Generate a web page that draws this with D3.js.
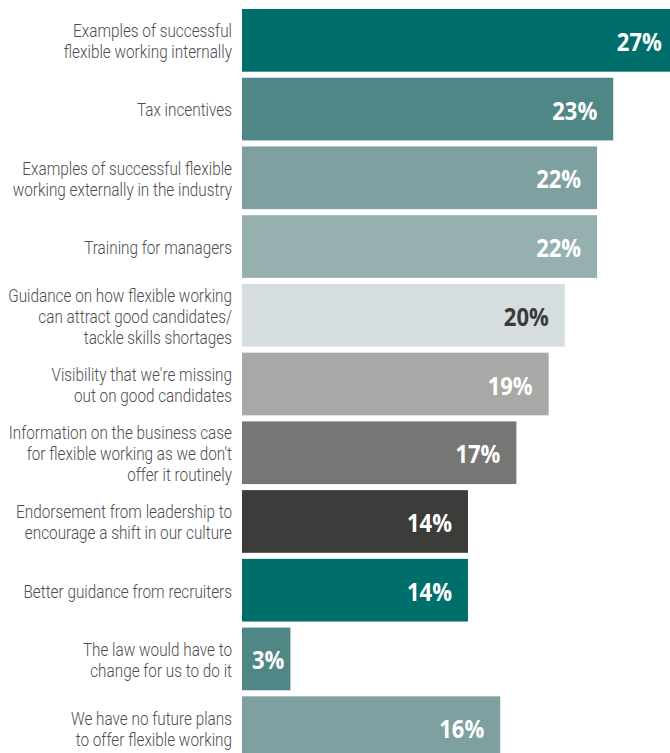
<!DOCTYPE html>
<html>
<head>
<meta charset="utf-8">
<script src="https://cdn.jsdelivr.net/npm/d3@7"></script>
<style>
  html, body { margin: 0; padding: 0; background: #fff; overflow: hidden; }
  svg { display: block; }
  .cat { font-family: Roboto, "Noto Sans", sans-serif; font-weight: 300; font-size: 17.5px; fill: #4d4d4d; }
  .val { font-family: "Open Sans", "Noto Sans", sans-serif; font-weight: 700; font-size: 25px; }
</style>
</head>
<body>
<svg id="chart" width="670" height="753"></svg>
<script>
// Survey answers: what would help to offer flexible working
const categories = [
  ["Examples of successful", "flexible working internally"],
  ["Tax incentives"],
  ["Examples of successful flexible", "working externally in the industry"],
  ["Training for managers"],
  ["Guidance on how flexible working", "can attract good candidates/", "tackle skills shortages"],
  ["Visibility that we're missing", "out on good candidates"],
  ["Information on the business case", "for flexible working as we don't", "offer it routinely"],
  ["Endorsement from leadership to", "encourage a shift in our culture"],
  ["Better guidance from recruiters"],
  ["The law would have to", "change for us to do it"],
  ["We have no future plans", "to offer flexible working"]
];
const values = [27, 23, 22, 22, 20, 19, 17, 14, 14, 3, 16];
const barColors = ["#006f6c", "#4e8785", "#7ea0a0", "#96b0b0", "#d5dde0", "#a8a8a7", "#767675", "#3c3c3b", "#006f6c", "#4e8785", "#7ea0a0"];
const labelColors = ["#fff", "#fff", "#fff", "#fff", "#3a3a3a", "#fff", "#fff", "#fff", "#fff", "#fff", "#fff"];

const svg = d3.select("#chart");
const x0 = 242;
const x = d3.scaleLinear().domain([0, 1]).range([x0, x0 + 16.14]);
const idx = d3.range(values.length);
const y = d3.scaleBand().domain(idx).range([9, 759]).paddingInner(0.088).paddingOuter(0);

const row = svg.selectAll("g.row").data(idx).join("g").attr("class", "row");

row.append("rect")
  .attr("x", x(0))
  .attr("y", i => y(i))
  .attr("width", i => x(values[i]) - x(0))
  .attr("height", y.bandwidth())
  .attr("fill", i => barColors[i]);

// value labels, slightly narrowed around their anchor point
const valSx = 0.88;
row.append("text")
  .attr("class", "val")
  .attr("fill", i => labelColors[i])
  .attr("text-anchor", i => (x(values[i]) - x(0)) < 80 ? "middle" : "end")
  .attr("transform", i => {
    const w = x(values[i]) - x(0);
    const ax = w < 80 ? (x(0) + x(values[i])) / 2 + 2 : x(values[i]) - 16;
    const ay = y(i) + y.bandwidth() / 2 + 10.5;
    return `translate(${ax},${ay}) scale(${valSx},1)`;
  })
  .text(i => values[i] + "%");

// category labels, right-aligned and narrowed to a condensed look
const lh = 21;
const catSx = 0.875;
row.append("text")
  .attr("class", "cat")
  .attr("text-anchor", "end")
  .attr("transform", i => `translate(232,${y(i) + y.bandwidth() / 2 + 7.4}) scale(${catSx},1)`)
  .each(function (i) {
    const lines = categories[i];
    const t = d3.select(this);
    lines.forEach((s, k) => {
      t.append("tspan")
        .attr("x", 0)
        .attr("y", (k - (lines.length - 1) / 2) * lh)
        .text(s);
    });
  });
</script>
</body>
</html>
